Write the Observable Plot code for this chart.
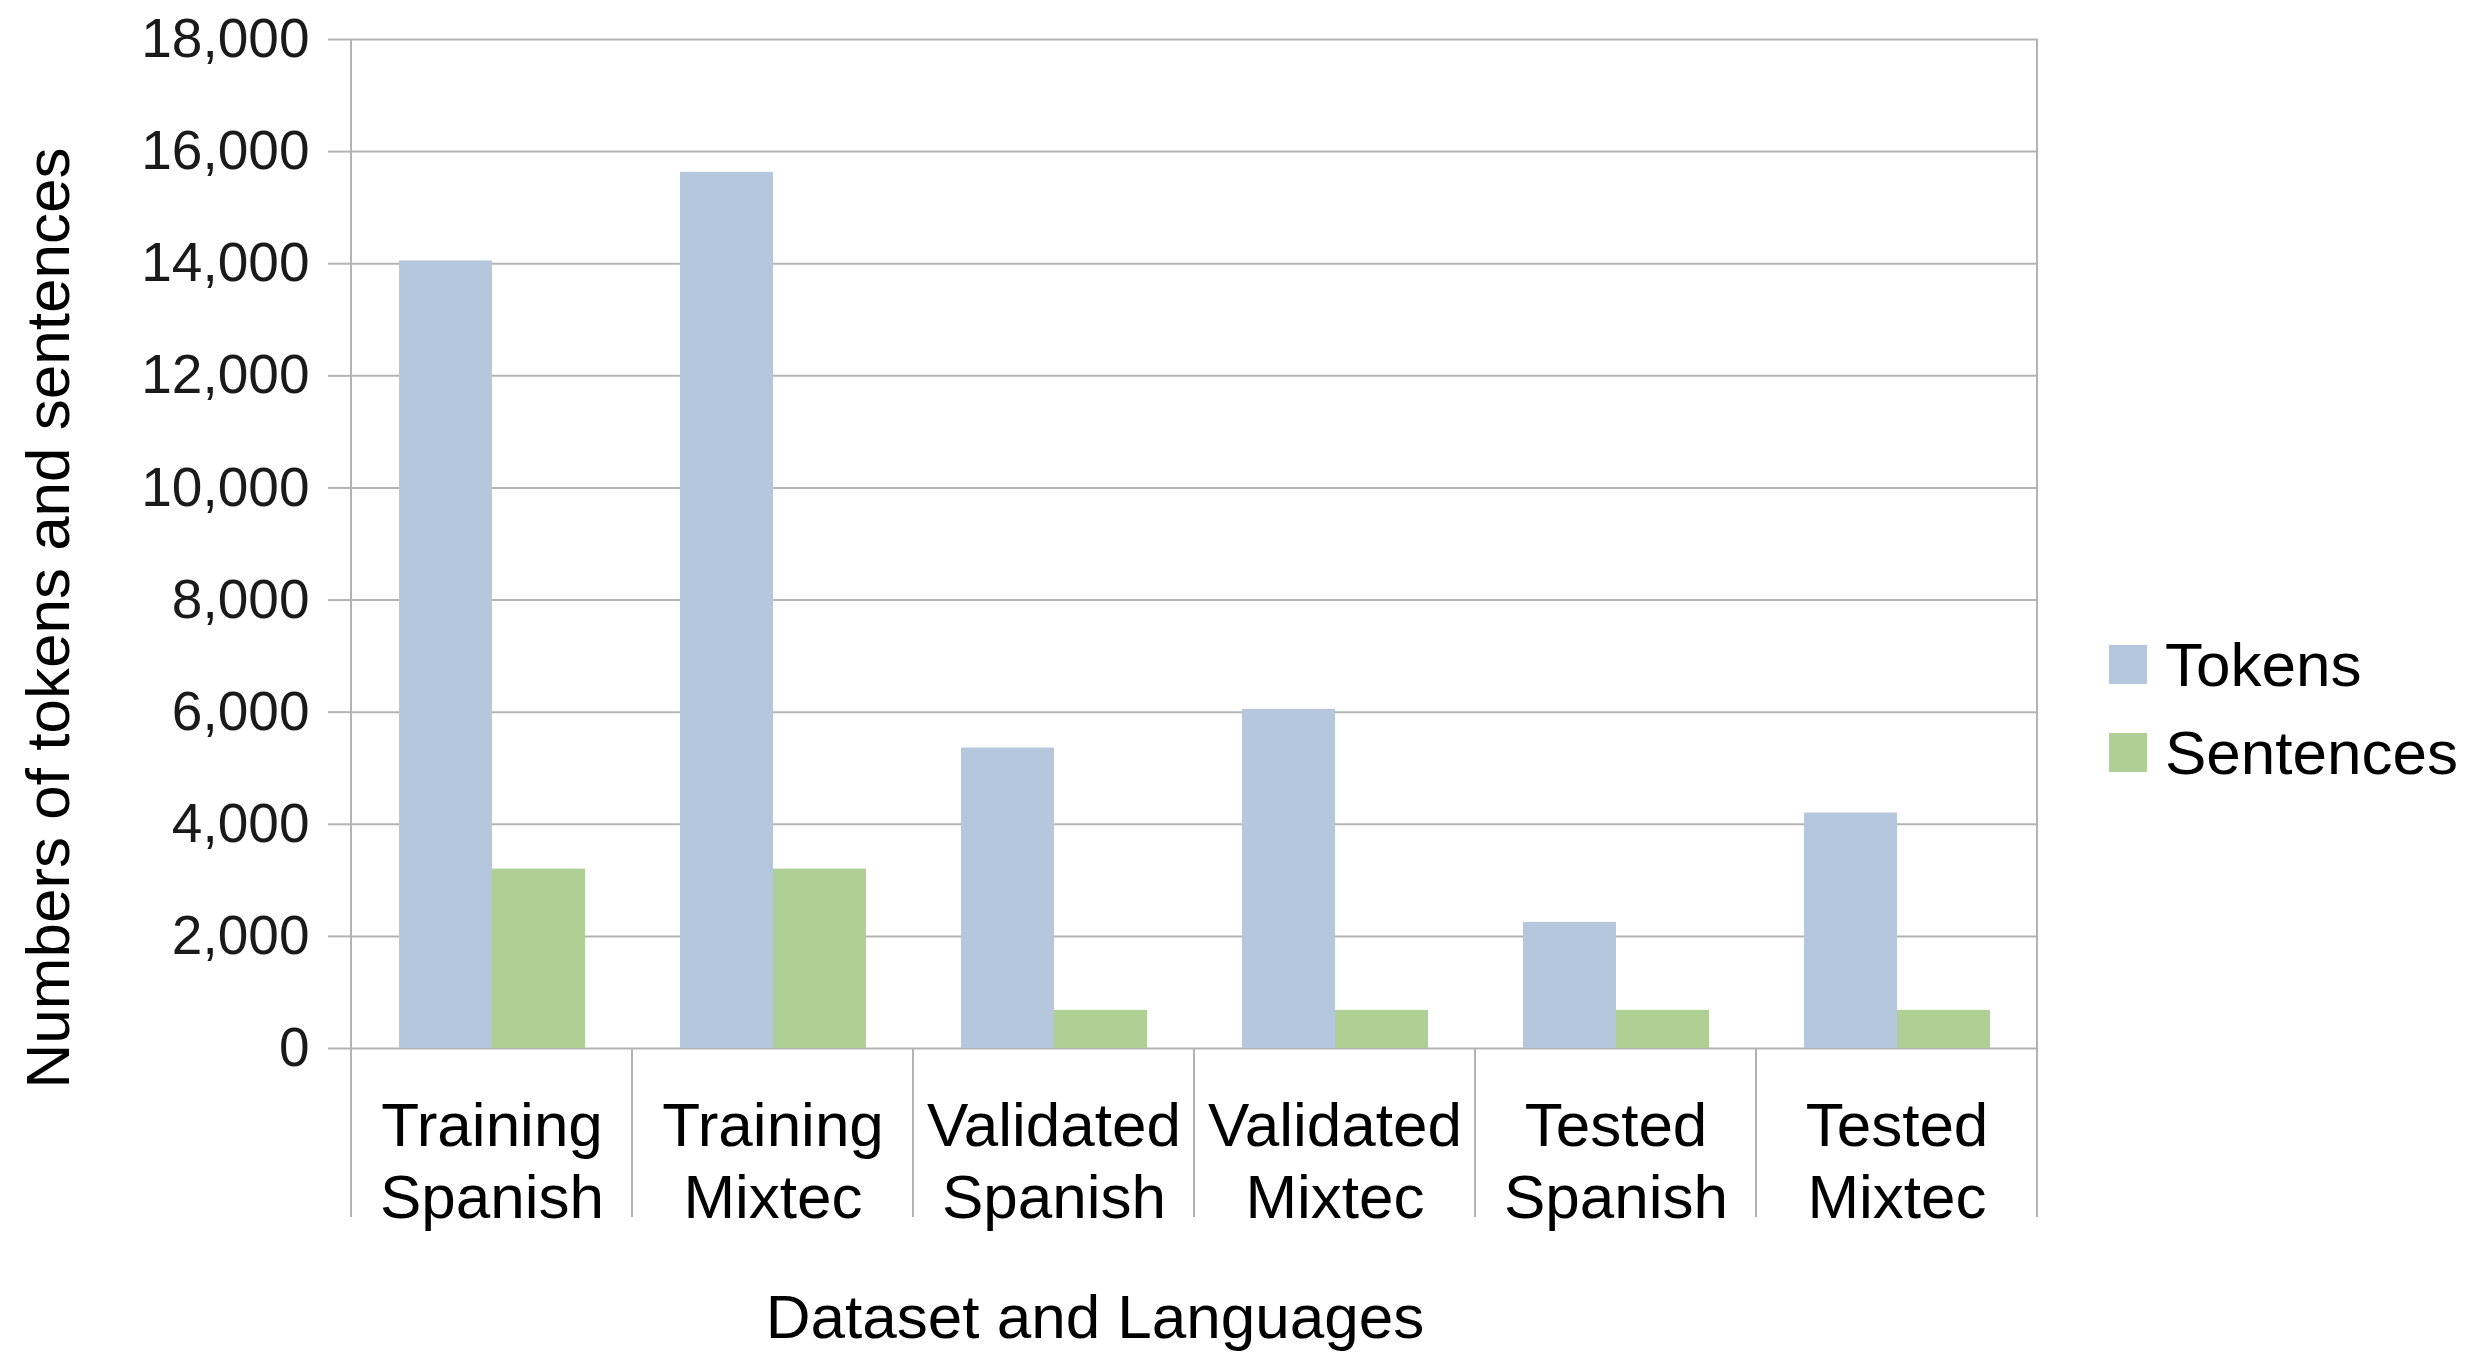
<!DOCTYPE html>
<html>
<head>
<meta charset="utf-8">
<script src="https://cdn.jsdelivr.net/npm/d3@7"></script>
<script src="https://cdn.jsdelivr.net/npm/@observablehq/plot@0.6"></script>
<style>
  html, body { margin: 0; padding: 0; background: #ffffff; }
  #chart svg { display: block; }
</style>
</head>
<body>
<div id="chart"></div>
<script>
// ---- data ----
const categories = ["Training Spanish", "Training Mixtec", "Validated Spanish", "Validated Mixtec", "Tested Spanish", "Tested Mixtec"];
const categoryLabels = ["Training\nSpanish", "Training\nMixtec", "Validated\nSpanish", "Validated\nMixtec", "Tested\nSpanish", "Tested\nMixtec"];
const series = ["Tokens", "Sentences"];
const tokens = [14050, 15630, 5360, 6050, 2250, 4200];
const sentences = [3200, 3200, 680, 680, 680, 680];
const yTicks = [0, 2000, 4000, 6000, 8000, 10000, 12000, 14000, 16000, 18000];
const seriesColors = ["#b4c7dc", "#afd095"];
const yTitle = "Numbers of tokens and sentences";
const xTitle = "Dataset and Languages";

// ---- table for the library ----
const rows = categories.flatMap((c, i) => [
  {category: c, series: series[0], value: tokens[i]},
  {category: c, series: series[1], value: sentences[i]}
]);
const labelOf = new Map(categories.map((c, i) => [c, categoryLabels[i]]));

const W = 2466, H = 1368;
const gridColor = "#b3b3b3";
const font = "Liberation Sans, Arial, sans-serif";

const chart = Plot.plot({
  width: W,
  height: H,
  marginLeft: 350,
  marginRight: 429,
  marginTop: 39,
  marginBottom: 320,
  style: {fontFamily: font, background: "#ffffff", color: "#000000", overflow: "visible"},
  fx: {domain: categories, padding: 0, axis: null, label: null},
  x: {domain: series, paddingInner: 0, paddingOuter: 0.5, axis: null, label: null},
  y: {domain: [0, 18000], label: null},
  color: {domain: series, range: seriesColors},
  marks: [
    Plot.gridY(yTicks, {stroke: gridColor, strokeOpacity: 1, strokeWidth: 2}),
    Plot.barY(rows, {fx: "category", x: "series", y: "value", fill: "series"}),
    Plot.axisY(yTicks, {
      tickSize: 23, tickPadding: 19, stroke: gridColor, strokeWidth: 2,
      fill: "#1a1a1a", fontSize: 55, tickFormat: d3.format(","), label: null
    }),
    Plot.text(categories, {
      fx: d => d, text: d => labelOf.get(d), frameAnchor: "bottom",
      lineAnchor: "top", dy: 46, fontSize: 62, lineHeight: 72 / 62, fill: "#000000"
    })
  ]
});

document.getElementById("chart").appendChild(chart);

// ---- frame borders and category separators, placed through Plot's scales ----
const svg = d3.select(chart);
const fx = chart.scale("fx");
const y = chart.scale("y");
const y0 = y.apply(0), yTop = y.apply(18000), yBottom = y0 + 169;
const edges = categories.map(c => fx.apply(c));
edges.push(fx.apply(categories[categories.length - 1]) + fx.bandwidth);
const g = svg.append("g").attr("stroke", gridColor).attr("stroke-width", 2);
edges.forEach((xe, i) => {
  const outer = i === 0 || i === edges.length - 1;
  g.append("line")
    .attr("x1", xe).attr("x2", xe)
    .attr("y1", outer ? yTop : y0).attr("y2", yBottom);
});

// ---- axis titles ----
svg.append("text")
  .attr("transform", `translate(69,${(yTop + yBottom) / 2 - 10}) rotate(-90)`)
  .attr("text-anchor", "middle")
  .attr("font-family", font).attr("font-size", 62).attr("fill", "#000")
  .text(yTitle);

svg.append("text")
  .attr("x", 1095).attr("y", 1338)
  .attr("text-anchor", "middle")
  .attr("font-family", font).attr("font-size", 62).attr("fill", "#000")
  .text(xTitle);

// ---- legend ----
const legend = svg.append("g").attr("font-family", font).attr("font-size", 62)
  .attr("text-anchor", "start");
series.forEach((s, i) => {
  const top = 645 + i * 88;
  legend.append("rect").attr("x", 2109).attr("y", top).attr("width", 38).attr("height", 39)
    .attr("fill", seriesColors[i]);
  legend.append("text").attr("x", 2165).attr("y", top + 41).attr("text-anchor", "start")
    .attr("fill", "#000").text(s);
});
</script>
</body>
</html>
